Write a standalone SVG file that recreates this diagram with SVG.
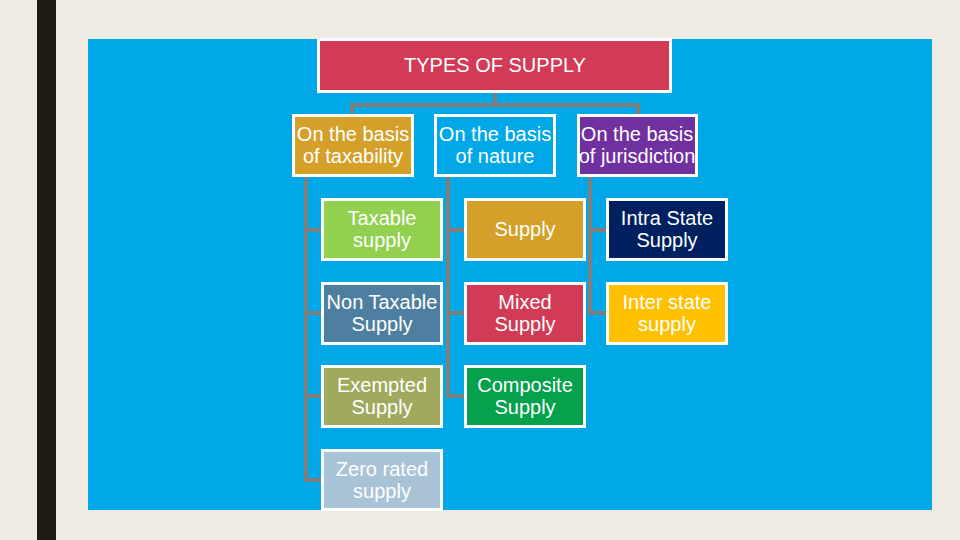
<svg xmlns="http://www.w3.org/2000/svg" width="960" height="540" viewBox="0 0 960 540">
<style>
.box{stroke:#fff;stroke-width:3}
.t{font-family:"Liberation Sans",Arial,sans-serif;font-size:20px;fill:#fff;text-anchor:middle}
.c{fill:none;stroke:#7f7f7f;stroke-width:4}
</style>
<rect width="960" height="540" fill="#eeebe4"/>
<rect x="37" y="0" width="19" height="540" fill="#1c1c10"/>
<rect x="88" y="39" width="844" height="471" fill="#00a8e8"/>
<g id="connectors">
<path class="c" d="M495 93V105M352 114V105H638V114"/>
<path class="c" d="M306 177V480H321M306 230H321M306 313H321M306 396H321"/>
<path class="c" d="M448 177V396H464M448 230H464M448 313H464"/>
<path class="c" d="M590 177V313H606M590 230H606"/>
</g>
<g id="title"><rect class="box" x="318.5" y="39.5" width="352" height="52" fill="#d13b56"/><text class="t" x="495" y="72">TYPES OF SUPPLY</text></g>
<g id="taxability"><rect class="box" x="293.5" y="115.5" width="119" height="60" fill="#d4a02a"/><text class="t" x="353" y="141">On the basis</text><text class="t" x="353" y="163">of taxability</text></g>
<g id="nature"><rect class="box" x="435.5" y="115.5" width="119" height="60" fill="#00a8e8"/><text class="t" x="495" y="141">On the basis</text><text class="t" x="495" y="163">of nature</text></g>
<g id="jurisdiction"><rect class="box" x="578.5" y="115.5" width="118" height="60" fill="#7030a0"/><text class="t" x="637" y="141">On the basis</text><text class="t" x="637" y="163">of jurisdiction</text></g>
<g id="taxable"><rect class="box" x="322.5" y="199.5" width="119" height="60" fill="#92d050"/><text class="t" x="382" y="225">Taxable</text><text class="t" x="382" y="247">supply</text></g>
<g id="nontaxable"><rect class="box" x="322.5" y="283.5" width="119" height="60" fill="#4f7fa0"/><text class="t" x="382" y="309">Non Taxable</text><text class="t" x="382" y="331">Supply</text></g>
<g id="exempted"><rect class="box" x="322.5" y="366.5" width="119" height="60" fill="#a0a95e"/><text class="t" x="382" y="392">Exempted</text><text class="t" x="382" y="414">Supply</text></g>
<g id="zerorated"><rect class="box" x="322.5" y="450.5" width="119" height="59" fill="#a9c3d6"/><text class="t" x="382" y="476">Zero rated</text><text class="t" x="382" y="498">supply</text></g>
<g id="supply"><rect class="box" x="465.5" y="199.5" width="119" height="60" fill="#d4a02a"/><text class="t" x="525" y="236">Supply</text></g>
<g id="mixed"><rect class="box" x="465.5" y="283.5" width="119" height="60" fill="#d13b56"/><text class="t" x="525" y="309">Mixed</text><text class="t" x="525" y="331">Supply</text></g>
<g id="composite"><rect class="box" x="465.5" y="366.5" width="119" height="60" fill="#06a14c"/><text class="t" x="525" y="392">Composite</text><text class="t" x="525" y="414">Supply</text></g>
<g id="intrastate"><rect class="box" x="607.5" y="199.5" width="119" height="60" fill="#002060"/><text class="t" x="667" y="225">Intra State</text><text class="t" x="667" y="247">Supply</text></g>
<g id="interstate"><rect class="box" x="607.5" y="283.5" width="119" height="60" fill="#ffc000"/><text class="t" x="667" y="309">Inter state</text><text class="t" x="667" y="331">supply</text></g>
</svg>
